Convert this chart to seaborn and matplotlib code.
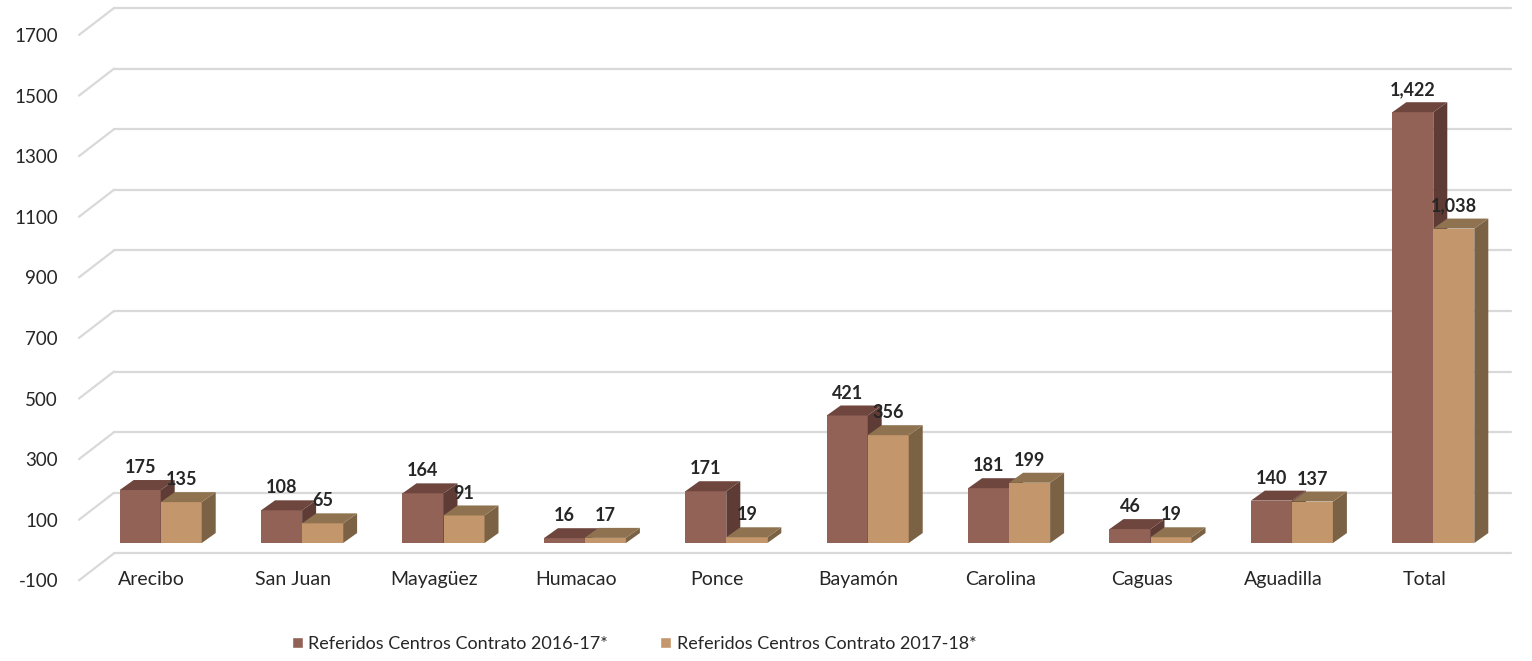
import pandas as pd
import matplotlib.pyplot as plt
import seaborn as sns
from matplotlib.patches import Polygon
from matplotlib.transforms import ScaledTranslation

regiones = ["Arecibo", "San Juan", "Mayagüez", "Humacao", "Ponce",
            "Bayamón", "Carolina", "Caguas", "Aguadilla", "Total"]
ref_2016_17 = [175, 108, 164, 16, 171, 421, 181, 46, 140, 1422]
ref_2017_18 = [135, 65, 91, 17, 19, 356, 199, 19, 137, 1038]
series = ["Referidos Centros Contrato 2016-17*", "Referidos Centros Contrato 2017-18*"]
yticks = list(range(-100, 1701, 200))

df = pd.DataFrame({
    "Region": regiones * 2,
    "Serie": [series[0]] * len(regiones) + [series[1]] * len(regiones),
    "Valor": ref_2016_17 + ref_2017_18,
})

front = ["#926256", "#C4966C"]
top = ["#6E463E", "#8F7350"]
side = ["#5E3C35", "#7B6245"]

sns.set_style("white")
plt.rcParams["font.family"] = ["Lato", "DejaVu Sans"]
plt.rcParams["axes.unicode_minus"] = False

fig = plt.figure(figsize=(15.32, 6.61), dpi=100)
ax = fig.add_axes([90 / 1532, 81 / 661, 1414 / 1532, 572 / 661])

sns.barplot(data=df, x="Region", y="Valor", hue="Serie", palette=front,
            width=0.58, ax=ax, saturation=1)

# px per unit ~0.303, zero of the bars sits ~7px above the label zero (3d floor)
scale = 0.303
ax.set_ylim(-122, 1766)
ax.set_xlim(-0.5, 9.5)

dx = 14 / 141.4
dy = 10 / scale
grid_off = 20 / scale
lab_off = 7 / scale

for i, cont in enumerate(ax.containers):
    for bar, val in zip(cont, [ref_2016_17, ref_2017_18][i]):
        bar.set_zorder(2 + i)
        bar.set_edgecolor("none")
        x, w, h = bar.get_x(), bar.get_width(), bar.get_height()
        ax.add_patch(Polygon([(x + w, 0), (x + w + dx, dy), (x + w + dx, h + dy), (x + w, h)],
                             closed=True, facecolor=side[i], edgecolor="none", zorder=2.1 + i))
        ax.add_patch(Polygon([(x, h), (x + dx, h + dy), (x + w + dx, h + dy), (x + w, h)],
                             closed=True, facecolor=top[i], edgecolor="none", zorder=2.1 + i))
        ax.annotate(f"{val:,}", (x + w / 2, h), xytext=(0, 10), textcoords="offset points",
                    ha="center", va="bottom", fontsize=13, fontweight="bold", zorder=10)

# back wall gridlines with a slanted left edge
for t in yticks:
    ax.plot([-0.33, 9.55], [t + grid_off, t + grid_off], color="#D9D9D9", lw=1.6,
            zorder=0, clip_on=False)
    ax.plot([-0.578, -0.33], [t - lab_off, t + grid_off], color="#D9D9D9", lw=1.6,
            zorder=0, clip_on=False)

ax.set_yticks(yticks)
ax.tick_params(axis="y", length=0, pad=23, labelsize=13.5)
ax.tick_params(axis="x", length=0, pad=0, labelsize=14)
for lab in ax.get_yticklabels():
    lab.set_transform(lab.get_transform() + ScaledTranslation(0, -7 / 100, fig.dpi_scale_trans))
for lab in ax.get_xticklabels():
    lab.set_transform(lab.get_transform() + ScaledTranslation(-9 / 100, 9 / 100, fig.dpi_scale_trans))
ax.set_xlabel("")
ax.set_ylabel("")
ax.grid(False)
sns.despine(ax=ax, left=True, bottom=True)

handles, labels = ax.get_legend_handles_labels()
ax.get_legend().remove()
fig.legend(handles, labels, loc="center", bbox_to_anchor=(0.414, 0.026), ncol=2,
           frameon=False, fontsize=13, handlelength=0.6, handleheight=0.6,
           handletextpad=0.3, columnspacing=2.9)

plt.savefig("out.png", dpi=100)
